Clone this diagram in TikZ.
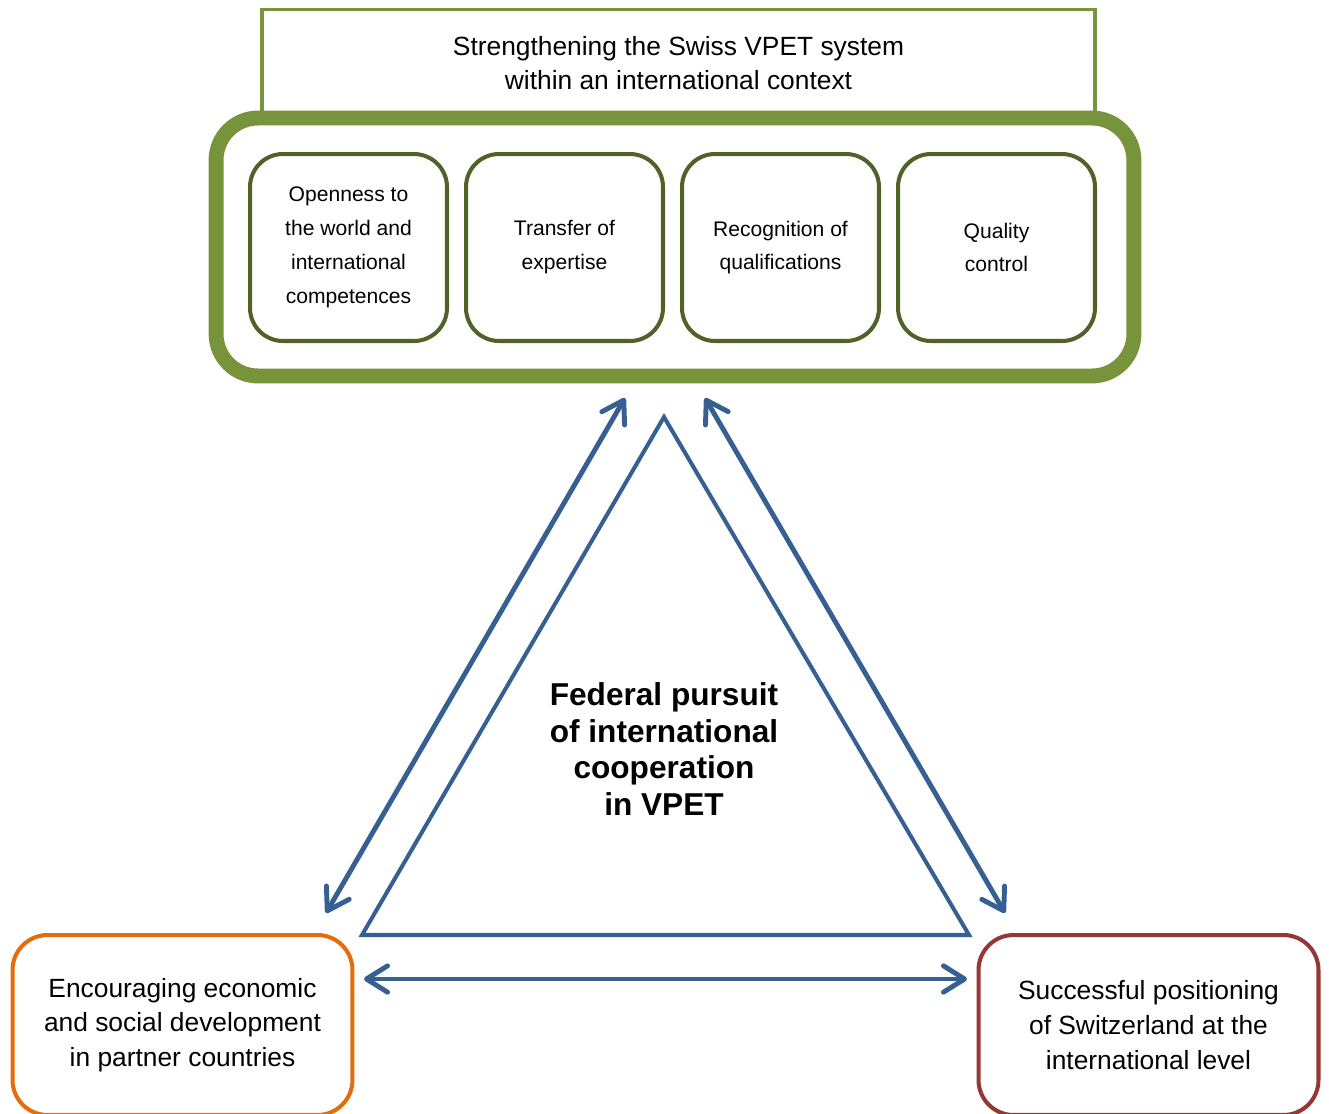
\documentclass[tikz,border=0pt]{standalone}
\usepackage{fontspec}
\setmainfont{Liberation Sans}
\usetikzlibrary{arrows.meta}
\definecolor{framegreen}{HTML}{77933C}
\definecolor{boxolive}{HTML}{4F6228}
\definecolor{linkblue}{HTML}{376092}
\definecolor{devorange}{HTML}{E46C0A}
\definecolor{posred}{HTML}{953735}
\tikzset{
    titlebox/.style={rectangle,draw=framegreen,line width=2.2pt,fill=white,minimum width=16.66cm,minimum height=2.13cm,inner sep=0pt,align=center,font=\fontsize{15}{19.3}\selectfont},
    bigframe/.style={rectangle,rounded corners=0.84cm,draw=framegreen,line width=8.5pt,minimum width=18.36cm,minimum height=5.16cm,inner sep=0pt},
    topic/.style={rectangle,rounded corners=0.66cm,draw=boxolive,line width=2.3pt,minimum width=3.94cm,minimum height=3.74cm,inner sep=0pt,align=center,font=\fontsize{12}{19.3}\selectfont},
    goal/.style={rectangle,rounded corners=0.7cm,line width=2.3pt,minimum width=6.8cm,minimum height=3.6cm,inner sep=0pt,align=center,font=\fontsize{15}{19.8}\selectfont},
    core/.style={align=center,inner sep=0pt,font=\bfseries\fontsize{18}{20.8}\selectfont},
    twoway/.style={draw=linkblue,line width=2.8pt,line cap=round,arrows={Straight Barb[round,length=12pt,width=15pt]-Straight Barb[round,length=12pt,width=15pt]}},
    triedge/.style={draw=linkblue,line width=2.3pt},
    }

\begin{document}
\begin{tikzpicture}[x=0.02cm,y=-0.02cm]
    \useasboundingbox (0,0) rectangle (1329,1113);

    \node[titlebox] (title) at (678.5,62.75) {Strengthening the Swiss VPET system\\within an international context};
    \node[bigframe] (frame) at (675,247) {};

    \node[topic] (open) at (348.5,247.5) {Openness to\\the world and\\international\\competences};
    \node[topic] (transfer) at (564.5,247.5) {Transfer of\\expertise};
    \node[topic] (recog) at (780.5,247.5) {Recognition of\\qualifications};
    \node[topic] (quality) at (996.5,247.5) {Quality\\control};

    \node[goal,draw=devorange] (dev) at (182.5,1025) {Encouraging economic\\and social development\\in partner countries};
    \node[goal,draw=posred] (pos) at (1148.5,1025) {Successful positioning\\of Switzerland at the\\international level};

    \node[core] (fed) at (664,749) {Federal pursuit\\of international\\cooperation\\in VPET};

    % triangle
    \coordinate (apex) at (664,417);
    \coordinate (lcorner) at (362,935);
    \coordinate (rcorner) at (969,935);
    \draw[triedge] (apex) -- (lcorner) -- (rcorner) -- cycle;

    % arrows
    \coordinate (ltop) at (625,398);
    \coordinate (lbot) at (326,913);
    \coordinate (rtop) at (705,398);
    \coordinate (rbot) at (1005,913);
    \coordinate (bleft) at (364,979);
    \coordinate (bright) at (967,979);
    \draw[twoway] (ltop) to (lbot);
    \draw[twoway] (rtop) to (rbot);
    \draw[twoway] (bleft) to (bright);
\end{tikzpicture}
\end{document}
